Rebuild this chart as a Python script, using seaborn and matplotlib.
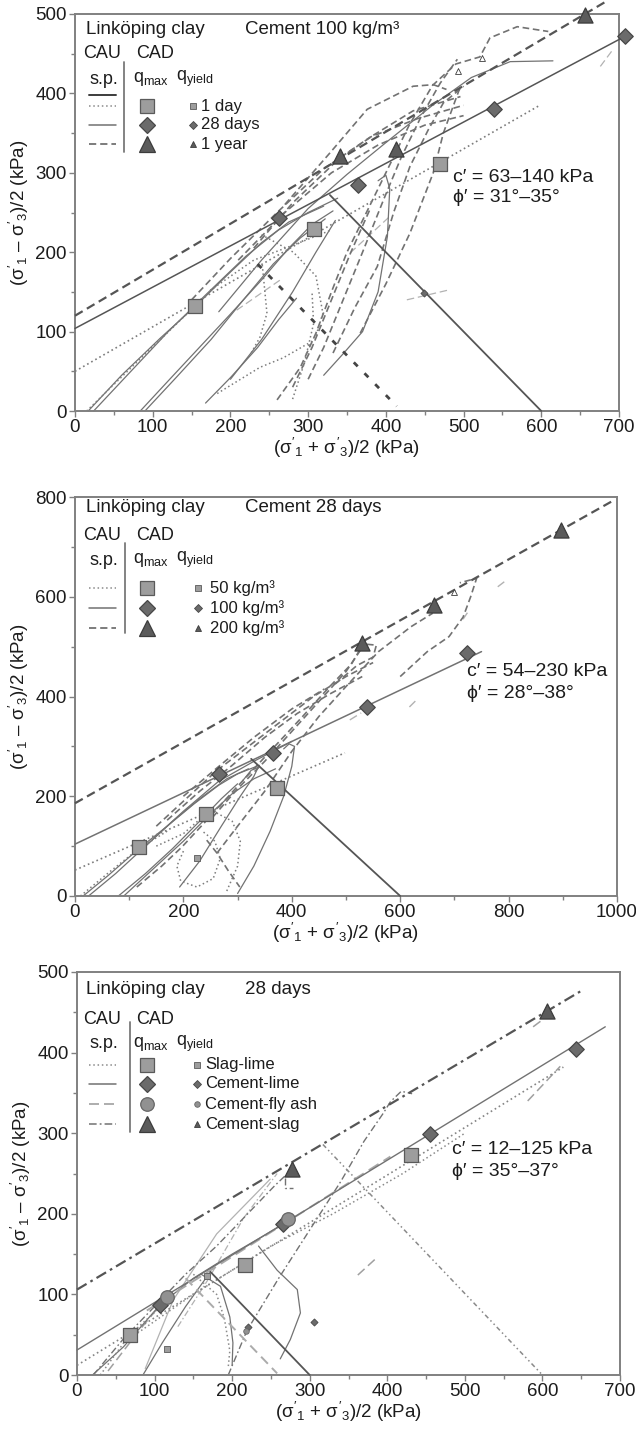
import matplotlib
matplotlib.use("Agg")
import matplotlib.pyplot as plt
from matplotlib.lines import Line2D
from matplotlib.ticker import MultipleLocator
import seaborn as sns

# ---------------------------------------------------------------
# Panel A - Linköping clay, cement 100 kg/m3, curing time
# ---------------------------------------------------------------
A_ENV_SOLID_P = [0, 708]
A_ENV_SOLID_Q = [104, 472]
A_ENV_DASHED_P = [0, 682]
A_ENV_DASHED_Q = [120, 515]
A_ENV_DOTTED_P = [0, 598]
A_ENV_DOTTED_Q = [50, 385]
A_TSP_SOLID_P = [328, 600]
A_TSP_SOLID_Q = [272, 0]
A_TSP_DASHED_P = [235, 414]
A_TSP_DASHED_Q = [185, 6]

A_QMAX_1DAY_P = [155, 308, 470]
A_QMAX_1DAY_Q = [132, 229, 311]
A_QMAX_28D_P = [263, 364, 539, 708]
A_QMAX_28D_Q = [243, 285, 380, 472]
A_QMAX_1Y_P = [341, 413, 656]
A_QMAX_1Y_Q = [321, 330, 499]
A_QYIELD_28D_P = [449]
A_QYIELD_28D_Q = [149]
A_QYIELD_1Y_P = [493, 524]
A_QYIELD_1Y_Q = [428, 445]

A_PATHS_28D = [
    [(17, 0), (60, 45), (110, 92), (155, 132), (200, 175), (240, 212), (275, 238), (320, 258)],
    [(24, 0), (70, 48), (120, 100), (170, 148), (220, 195), (262, 228), (300, 250), (338, 268)],
    [(84, 0), (120, 38), (160, 80), (200, 122), (240, 165), (275, 205), (305, 235), (332, 252)],
    [(90, 0), (130, 42), (175, 90), (215, 138), (255, 185), (290, 218), (322, 242)],
    [(168, 10), (200, 42), (235, 80), (262, 115), (285, 142)],
    [(200, 40), (240, 90), (280, 150), (310, 200), (335, 240)],
    [(320, 45), (345, 72), (370, 100), (390, 150), (402, 220), (405, 280), (400, 297), (390, 290)],
    [(185, 125), (240, 190), (300, 255), (350, 298), (400, 338), (460, 385), (510, 420), (560, 440), (615, 441)],
]
A_PATHS_1Y = [
    [(260, 14), (290, 55), (310, 98), (330, 150), (350, 200), (375, 250), (400, 300), (430, 360),
     (460, 410), (490, 437), (521, 446), (534, 470), (569, 484), (609, 478)],
    [(280, 30), (305, 80), (330, 140), (355, 200), (380, 255)],
    [(300, 40), (320, 80), (345, 140), (370, 200), (397, 266), (420, 320), (445, 370), (470, 413), (492, 443)],
    [(332, 73), (360, 130), (389, 182), (410, 250), (431, 308), (455, 355), (474, 388), (500, 409)],
    [(367, 98), (400, 160), (431, 224), (461, 300), (474, 350), (496, 409)],
    [(230, 205), (280, 262), (340, 318), (385, 348), (435, 378), (496, 396)],
    [(270, 260), (328, 325), (376, 380), (435, 409), (461, 411), (478, 405)],
    [(150, 140), (200, 192), (260, 250), (320, 305), (380, 345), (440, 368), (500, 385)],
    [(210, 190), (270, 250), (330, 300), (390, 335), (450, 360), (500, 372)],
]
A_PATHS_1DAY = [
    [(183, 22), (238, 55), (268, 67), (300, 85)],
    [(241, 184), (247, 123), (238, 93), (225, 70)],
    [(240, 222), (281, 200), (310, 170), (319, 123), (311, 98), (300, 80)],
    [(174, 152), (230, 190), (281, 209), (330, 228)],
    [(15, 0), (80, 62), (150, 128)],
    [(280, 15), (295, 60), (307, 110), (305, 150)],
]
A_PATHS_FAINT = [
    [(208, 127), (264, 165)],
    [(354, 199), (405, 245)],
    [(427, 140), (479, 152)],
    [(676, 434), (692, 455)],
]

# ---------------------------------------------------------------
# Panel B - Linköping clay, cement, 28 days, binder quantity
# ---------------------------------------------------------------
B_ENV_DASHED_P = [0, 995]
B_ENV_DASHED_Q = [186, 794]
B_ENV_SOLID_P = [0, 750]
B_ENV_SOLID_Q = [104, 490]
B_ENV_DOTTED_P = [0, 498]
B_ENV_DOTTED_Q = [52, 287]
B_TSP_P = [325, 600]
B_TSP_Q = [275, 0]

B_QMAX_50_P = [118, 241, 372]
B_QMAX_50_Q = [98, 164, 216]
B_QMAX_100_P = [265, 365, 538, 724]
B_QMAX_100_Q = [244, 287, 379, 487]
B_QMAX_200_P = [529, 662, 896]
B_QMAX_200_Q = [507, 583, 733]
B_QYIELD_50_P = [225]
B_QYIELD_50_Q = [76]
B_QYIELD_200_P = [700]
B_QYIELD_200_Q = [609]

B_PATHS_100 = [
    [(15, 0), (60, 40), (118, 95), (170, 140), (220, 185), (265, 222), (300, 245), (340, 262)],
    [(25, 0), (75, 45), (130, 100), (180, 150), (230, 195), (280, 235), (320, 255)],
    [(80, 0), (130, 45), (180, 95), (230, 150), (270, 195), (300, 225)],
    [(90, 0), (150, 60), (200, 110), (250, 165), (290, 205), (330, 235), (370, 255)],
    [(193, 18), (230, 70), (270, 140), (305, 200), (330, 240), (338, 258), (325, 252), (310, 232)],
    [(300, 5), (330, 60), (360, 130), (385, 200), (400, 260), (405, 300), (395, 305), (385, 295)],
    [(120, 90), (200, 170), (265, 230), (330, 270), (400, 310)],
]
B_PATHS_200 = [
    [(114, 18), (160, 60), (197, 98), (250, 160), (300, 220), (360, 290), (420, 360), (470, 420), (510, 465), (529, 500)],
    [(262, 86), (300, 140), (350, 210), (400, 290), (450, 360), (500, 420), (560, 490), (620, 540), (660, 567)],
    [(254, 158), (300, 215), (350, 270), (400, 330), (450, 390), (500, 450), (531, 500)],
    [(600, 440), (650, 490), (690, 520), (716, 559), (730, 600), (741, 637), (710, 628)],
    [(480, 425), (520, 462), (550, 479), (556, 503), (535, 505)],
    [(150, 140), (200, 190), (260, 250), (320, 300), (380, 350), (440, 400), (500, 440), (550, 468)],
    [(170, 152), (230, 210), (290, 262), (350, 318), (410, 366), (470, 405), (530, 440)],
    [(200, 200), (260, 255), (330, 318), (400, 375), (460, 415)],
    [(243, 112), (262, 86), (282, 52), (304, 18)],
]
B_PATHS_50 = [
    [(10, 0), (60, 45), (118, 95), (170, 130)],
    [(200, 90), (188, 60), (195, 30), (225, 18), (255, 35), (268, 75), (258, 110), (235, 130)],
    [(280, 10), (300, 60), (305, 110), (290, 150), (262, 166)],
    [(150, 100), (200, 125), (241, 164)],
]
B_PATHS_FAINT = [
    [(507, 353), (528, 367)],
    [(617, 379), (630, 393)],
    [(716, 555), (724, 568)],
    [(780, 620), (792, 630)],
]

# ---------------------------------------------------------------
# Panel C - Linköping clay, 28 days, binder type
# ---------------------------------------------------------------
C_ENV_DASHDOT_P = [0, 649]
C_ENV_DASHDOT_Q = [106, 476]
C_ENV_SOLID_P = [0, 681]
C_ENV_SOLID_Q = [31, 432]
C_ENV_DOTTED_P = [0, 627]
C_ENV_DOTTED_Q = [12, 382]
C_ENV_DASHED_P = [90, 404]
C_ENV_DASHED_Q = [80, 271]
C_TSP_SOLID_P = [172, 300]
C_TSP_SOLID_Q = [128, 0]
C_TSP_DASHED_P = [140, 258]
C_TSP_DASHED_Q = [120, 2]
C_TSP_DOTTED_P = [317, 600]
C_TSP_DOTTED_Q = [286, 0]

C_QMAX_SLAGLIME_P = [68, 216, 430]
C_QMAX_SLAGLIME_Q = [50, 137, 273]
C_QMAX_CEMLIME_P = [107, 266, 455, 643]
C_QMAX_CEMLIME_Q = [87, 187, 299, 405]
C_QMAX_FLYASH_P = [116, 272]
C_QMAX_FLYASH_Q = [97, 193]
C_QMAX_CEMSLAG_P = [277, 606]
C_QMAX_CEMSLAG_Q = [255, 451]
C_QYIELD_SLAGLIME_P = [116, 168]
C_QYIELD_SLAGLIME_Q = [32, 123]
C_QYIELD_CEMLIME_P = [221, 306]
C_QYIELD_CEMLIME_Q = [60, 66]
C_QYIELD_FLYASH_P = [218]
C_QYIELD_FLYASH_Q = [55]

C_PATHS_CEMSLAG = [
    [(195, 0), (219, 55), (260, 120), (300, 180), (340, 240), (370, 290), (395, 325), (404, 339), (418, 352), (432, 349)],
    [(21, 0), (60, 45), (100, 85), (140, 125), (180, 160), (220, 200), (255, 235), (277, 255)],
    [(268, 245), (268, 232), (278, 232)],
]
C_PATHS_CEMSLAG_FAINT = [
    [(130, 60), (170, 120), (215, 195), (258, 250)],
]
C_PATHS_CEMLIME = [
    [(85, 0), (110, 40), (140, 85), (172, 128)],
    [(160, 125), (185, 110), (197, 72), (201, 40), (200, 12)],
    [(234, 160), (258, 130), (284, 106), (288, 77), (275, 44), (262, 20)],
    [(20, 0), (60, 35), (107, 87), (150, 120), (200, 150), (266, 187)],
]
C_PATHS_CEMLIME_FAINT = [
    [(88, 8), (124, 93), (180, 175), (249, 243)],
]
C_PATHS_SLAGLIME = [
    [(30, 0), (68, 50), (120, 95)],
    [(150, 125), (180, 100), (190, 70), (197, 30), (195, 10)],
    [(60, 40), (150, 100), (250, 160), (330, 200), (420, 250), (500, 300)],
]
C_PATHS_FLYASH = [
    [(362, 124), (387, 146)],
    [(581, 340), (623, 383)],
    [(588, 432), (606, 445)],
    [(40, 5), (80, 55), (116, 97)],
]

# ---------------------------------------------------------------
# style
# ---------------------------------------------------------------
sns.set_theme(style="ticks")
plt.rcParams["font.family"] = ["Liberation Sans", "DejaVu Sans"]
plt.rcParams["mathtext.fontset"] = "custom"
plt.rcParams["mathtext.rm"] = "Liberation Sans"
plt.rcParams["mathtext.it"] = "Liberation Sans"
plt.rcParams["mathtext.bf"] = "Liberation Sans:bold"

W, H = 636, 1429
TXT = "#1c1c1c"
DARK = "#555555"
MID = "#727272"
FAINT = "#b2b2b2"
AXC = "#808080"

FS_TICK = 13.5
FS_HEAD = 13.5
FS_KEY = 13
FS_ITEM = 12
FS_NOTE = 14
FS_AXIS = 13.5

LS_DASH = (0, (4.0, 2.2))
LS_DOT = (0, (1.0, 1.8))
LS_DASHDOT = (0, (5.0, 2.0, 1.2, 2.0))
LS_DASHDOTDOT = (0, (3.0, 2.0, 1.0, 2.0, 1.0, 2.0))
LS_LONG = (0, (6.0, 3.0))

SQ = dict(marker="s", fc="#9d9d9d", ec="#5a5a5a")
DI = dict(marker="D", fc="#6b6b6b", ec="#474747")
TR = dict(marker="^", fc="#5b5b5b", ec="#3c3c3c")
CI = dict(marker="o", fc="#919191", ec="#666666")
BIG = {"s": 88, "D": 62, "^": 118, "o": 95}
SMALL = {"s": 14, "D": 13, "^": 18, "o": 16}


def line(ax, p, q, color=MID, lw=0.9, ls="-", z=2):
    sns.lineplot(x=list(p), y=list(q), sort=False, estimator=None, ax=ax,
                 color=color, linewidth=lw, linestyle=ls, clip_on=False, zorder=z)


def paths(ax, group, color=MID, lw=0.9, ls="-", z=2):
    for pts in group:
        p, q = zip(*pts)
        line(ax, p, q, color, lw, ls, z)


def marks(ax, p, q, style, small=False, hollow=False, z=6):
    m = style["marker"]
    size = SMALL[m] if small else BIG[m]
    fc = "white" if hollow else style["fc"]
    sns.scatterplot(x=p, y=q, marker=m, s=size, color=fc, edgecolor=style["ec"],
                    linewidth=0.9 if not small else 0.6, ax=ax, zorder=z,
                    clip_on=False, legend=False)


def setup(ax, xmax, ymax, xmaj, xmin, ymaj, ymin):
    ax.set_xlim(0, xmax)
    ax.set_ylim(0, ymax)
    ax.xaxis.set_major_locator(MultipleLocator(xmaj))
    ax.xaxis.set_minor_locator(MultipleLocator(xmin))
    ax.yaxis.set_major_locator(MultipleLocator(ymaj))
    ax.yaxis.set_minor_locator(MultipleLocator(ymin))
    for s in ax.spines.values():
        s.set_color(AXC)
        s.set_linewidth(1.4)
    ax.tick_params(which="both", direction="out", color=AXC, width=1.0,
                   labelsize=FS_TICK, labelcolor=TXT, pad=1.5)
    ax.tick_params(which="major", length=4.5)
    ax.tick_params(which="minor", length=3)
    ax.set_xlabel(r"($\sigma'_1$ + $\sigma'_3$)/2 (kPa)", fontsize=FS_AXIS, color=TXT, labelpad=0)
    ax.set_ylabel(r"($\sigma'_1$ – $\sigma'_3$)/2 (kPa)", fontsize=FS_AXIS, color=TXT, labelpad=3)


fig = plt.figure(figsize=(W / 100, H / 100), dpi=100)


def ftext(px, py, s, size=FS_KEY, **kw):
    fig.text(px / W, 1 - py / H, s, fontsize=size, color=TXT, ha="left", va="center", **kw)


def fline(x1, x2, y, color, lw, ls):
    fig.add_artist(Line2D([x1 / W, x2 / W], [1 - y / H, 1 - y / H], transform=fig.transFigure,
                          color=color, lw=lw, linestyle=ls))


def fvline(x, y1, y2):
    fig.add_artist(Line2D([x / W, x / W], [1 - y1 / H, 1 - y2 / H], transform=fig.transFigure,
                          color="#7a7a7a", lw=1.3))


def fmark(px, py, style, small=False):
    m = style["marker"]
    ms = (SMALL[m] if small else BIG[m]) ** 0.5
    fig.add_artist(Line2D([px / W], [1 - py / H], transform=fig.transFigure, marker=m,
                          ms=ms, mfc=style["fc"], mec=style["ec"], mew=0.9 if not small else 0.6,
                          linestyle="none"))


def key(heads, right_title, y0, sep_x, sep_y, rows, labels, text_x, big_x=147, small_x=195):
    ftext(86, y0, "Linköping clay", size=FS_HEAD)
    ftext(245, y0, right_title, size=FS_HEAD)
    ftext(83, heads[0], "CAU")
    ftext(136, heads[0], "CAD")
    ftext(89, heads[1], "s.p.")
    ftext(133, heads[1], r"q$_{\mathregular{max}}$")
    ftext(176, heads[1], r"q$_{\mathregular{yield}}$")
    fvline(sep_x, sep_y[0], sep_y[1])
    for (yy, color, lw, ls, style), lab in zip(rows, labels):
        fline(89, 116, yy, color, lw, ls)
        if style is not None:
            fmark(big_x, yy, style)
            fmark(small_x, yy, style, small=True)
            ftext(text_x, yy, lab, size=FS_ITEM)


# ---------------------------------------------------------------
# Panel A
# ---------------------------------------------------------------
axA = fig.add_axes([75 / W, 1 - 411 / H, 544 / W, 397 / H])
paths(axA, A_PATHS_FAINT, FAINT, 0.9, LS_LONG, 1)
paths(axA, A_PATHS_28D, MID, 0.9, "-")
paths(axA, A_PATHS_1Y, MID, 1.2, LS_DASH)
paths(axA, A_PATHS_1DAY, "#7c7c7c", 1.1, LS_DOT)
line(axA, A_ENV_DOTTED_P, A_ENV_DOTTED_Q, "#7c7c7c", 1.2, LS_DOT, 3)
line(axA, A_ENV_SOLID_P, A_ENV_SOLID_Q, DARK, 1.1, "-", 3)
line(axA, A_ENV_DASHED_P, A_ENV_DASHED_Q, DARK, 1.6, LS_DASH, 3)
line(axA, A_TSP_SOLID_P, A_TSP_SOLID_Q, DARK, 1.3, "-", 3)
line(axA, A_TSP_DASHED_P, A_TSP_DASHED_Q, "#444444", 2.0, (0, (2.0, 3.5)), 3)
marks(axA, A_QMAX_1DAY_P, A_QMAX_1DAY_Q, SQ)
marks(axA, A_QMAX_28D_P, A_QMAX_28D_Q, DI)
marks(axA, A_QMAX_1Y_P, A_QMAX_1Y_Q, TR)
marks(axA, A_QYIELD_28D_P, A_QYIELD_28D_Q, DI, small=True)
marks(axA, A_QYIELD_1Y_P, A_QYIELD_1Y_Q, TR, small=True, hollow=True)
setup(axA, 700, 500, 100, 50, 100, 50)

key((53, 79), "Cement 100 kg/m³", 30, 124, (62, 152),
    [(95, "#3c3c3c", 1.4, "-", None), (106, "#8a8a8a", 1.1, LS_DOT, SQ),
     (125, MID, 1.1, "-", DI), (144, MID, 1.3, LS_DASH, TR)],
    ["", "1 day", "28 days", "1 year"], 201, small_x=193)
ftext(453, 177, "c′ = 63–140 kPa", size=FS_NOTE)
ftext(453, 198, "ϕ′ = 31°–35°", size=FS_NOTE)

# ---------------------------------------------------------------
# Panel B
# ---------------------------------------------------------------
axB = fig.add_axes([75 / W, 1 - 896 / H, 542 / W, 399 / H])
paths(axB, B_PATHS_FAINT, FAINT, 1.0, LS_LONG, 1)
paths(axB, B_PATHS_100, MID, 0.9, "-")
paths(axB, B_PATHS_200, MID, 1.2, LS_DASH)
paths(axB, B_PATHS_50, "#7c7c7c", 1.1, LS_DOT)
line(axB, B_ENV_DOTTED_P, B_ENV_DOTTED_Q, "#7c7c7c", 1.2, LS_DOT, 3)
line(axB, B_ENV_SOLID_P, B_ENV_SOLID_Q, MID, 1.1, "-", 3)
line(axB, B_ENV_DASHED_P, B_ENV_DASHED_Q, DARK, 1.6, LS_DASH, 3)
line(axB, B_TSP_P, B_TSP_Q, DARK, 1.3, "-", 3)
marks(axB, B_QMAX_50_P, B_QMAX_50_Q, SQ)
marks(axB, B_QMAX_100_P, B_QMAX_100_Q, DI)
marks(axB, B_QMAX_200_P, B_QMAX_200_Q, TR)
marks(axB, B_QYIELD_50_P, B_QYIELD_50_Q, SQ, small=True)
marks(axB, B_QYIELD_200_P, B_QYIELD_200_Q, TR, small=True, hollow=True)
setup(axB, 1000, 800, 200, 100, 200, 100)

key((536, 560), "Cement 28 days", 508, 125, (543, 633),
    [(588, "#8a8a8a", 1.1, LS_DOT, SQ), (608, MID, 1.1, "-", DI),
     (628, MID, 1.3, LS_DASH, TR)],
    ["50 kg/m³", "100 kg/m³", "200 kg/m³"], 210, small_x=198)
ftext(467, 671, "c′ = 54–230 kPa", size=FS_NOTE)
ftext(467, 693, "ϕ′ = 28°–38°", size=FS_NOTE)

# ---------------------------------------------------------------
# Panel C
# ---------------------------------------------------------------
axC = fig.add_axes([77 / W, 1 - 1375 / H, 543 / W, 403 / H])
paths(axC, C_PATHS_CEMSLAG_FAINT, FAINT, 0.9, LS_DASHDOT, 1)
paths(axC, C_PATHS_CEMLIME_FAINT, FAINT, 0.9, "-", 1)
paths(axC, C_PATHS_FLYASH, "#a0a0a0", 1.1, LS_LONG)
paths(axC, C_PATHS_CEMLIME, MID, 0.9, "-")
paths(axC, C_PATHS_SLAGLIME, "#8a8a8a", 1.1, LS_DOT)
paths(axC, C_PATHS_CEMSLAG, MID, 1.0, LS_DASHDOT)
line(axC, C_ENV_DOTTED_P, C_ENV_DOTTED_Q, "#858585", 1.2, LS_DOT, 3)
line(axC, C_ENV_DASHED_P, C_ENV_DASHED_Q, "#a8a8a8", 1.4, LS_LONG, 3)
line(axC, C_ENV_SOLID_P, C_ENV_SOLID_Q, MID, 1.0, "-", 3)
line(axC, C_ENV_DASHDOT_P, C_ENV_DASHDOT_Q, DARK, 1.6, LS_DASHDOT, 3)
line(axC, C_TSP_SOLID_P, C_TSP_SOLID_Q, DARK, 1.3, "-", 3)
line(axC, C_TSP_DASHED_P, C_TSP_DASHED_Q, "#ababab", 1.4, (0, (5, 3)), 3)
line(axC, C_TSP_DOTTED_P, C_TSP_DOTTED_Q, "#8a8a8a", 1.1, LS_DASHDOTDOT, 3)
marks(axC, C_QMAX_SLAGLIME_P, C_QMAX_SLAGLIME_Q, SQ)
marks(axC, C_QMAX_CEMLIME_P, C_QMAX_CEMLIME_Q, DI)
marks(axC, C_QMAX_FLYASH_P, C_QMAX_FLYASH_Q, CI, z=7)
marks(axC, C_QMAX_CEMSLAG_P, C_QMAX_CEMSLAG_Q, TR)
marks(axC, C_QYIELD_SLAGLIME_P, C_QYIELD_SLAGLIME_Q, SQ, small=True)
marks(axC, C_QYIELD_CEMLIME_P, C_QYIELD_CEMLIME_Q, DI, small=True)
marks(axC, C_QYIELD_FLYASH_P, C_QYIELD_FLYASH_Q, CI, small=True)
setup(axC, 700, 500, 100, 50, 100, 50)

key((1019, 1044), "28 days", 989, 130, (1022, 1132),
    [(1065, "#8a8a8a", 1.1, LS_DOT, SQ), (1084, MID, 1.1, "-", DI),
     (1104, "#a0a0a0", 1.2, LS_LONG, CI), (1124, MID, 1.1, LS_DASHDOT, TR)],
    ["Slag-lime", "Cement-lime", "Cement-fly ash", "Cement-slag"], 205, small_x=197)
ftext(452, 1149, "c′ = 12–125 kPa", size=FS_NOTE)
ftext(452, 1171, "ϕ′ = 35°–37°", size=FS_NOTE)

fig.savefig("out.png", dpi=100)
